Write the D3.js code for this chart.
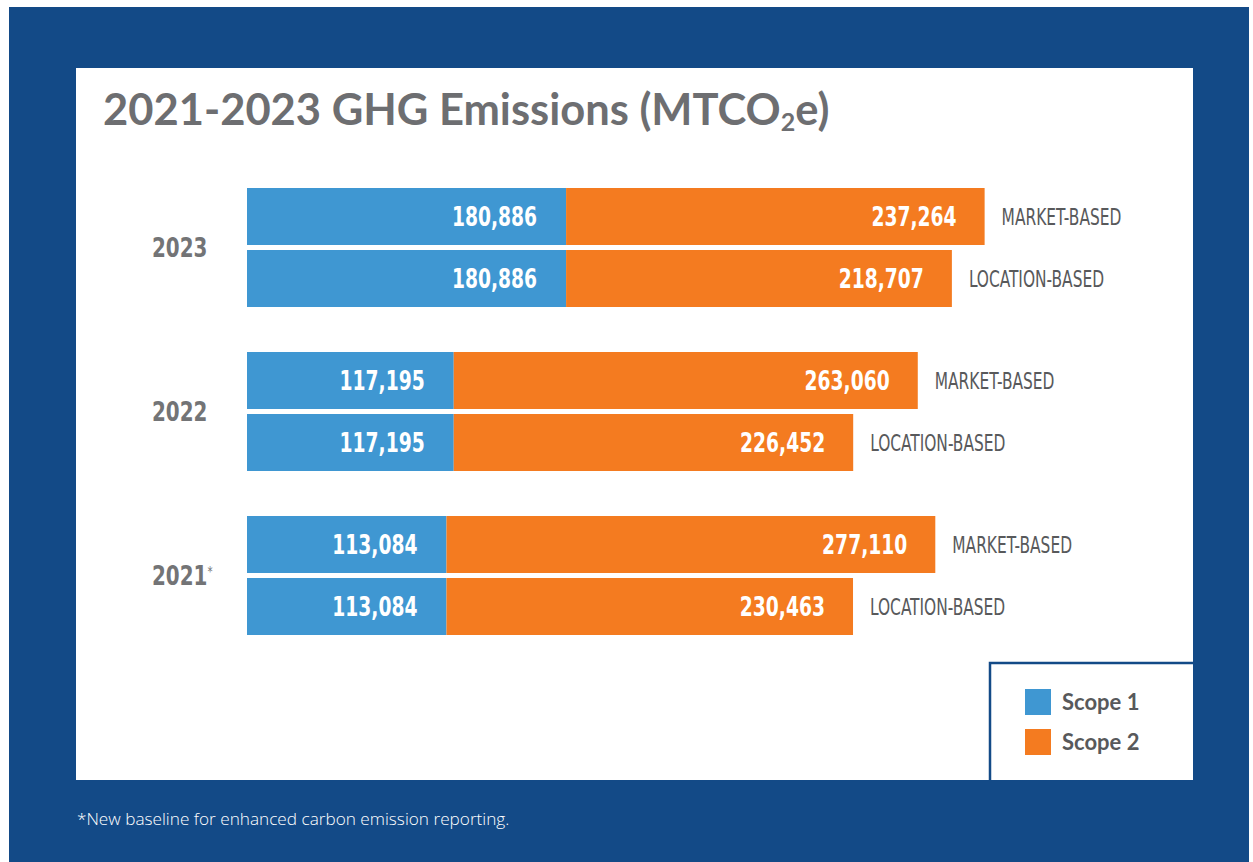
<!DOCTYPE html>
<html>
<head>
<meta charset="utf-8">
<script src="https://cdn.jsdelivr.net/npm/d3@7"></script>
<style>
  body { margin: 0; background: #fff; }
  svg { display: block; }
  .cond { font-family: "Liberation Sans Narrow", "DejaVu Sans Condensed", sans-serif; }
</style>
</head>
<body>
<svg id="chart" width="1253" height="862"></svg>
<script>
// Emissions in MTCO2e
var years = ["2023", "2022", "2021"],
    yearMarks = ["", "", "*"],
    methods = ["MARKET-BASED", "LOCATION-BASED"],
    scope1 = [180886, 117195, 113084],
    scope2Market = [237264, 263060, 277110],
    scope2Location = [218707, 226452, 230463],
    legendLabels = ["Scope 1", "Scope 2"];

var navy = "#134a87",
    blue = "#3f97d2",
    orange = "#f47b20",
    grey = "#58595b";

var svg = d3.select("#chart");

// squeeze a text node horizontally to imitate the very condensed face
function squeeze(factor) {
  return function() {
    var w = this.getComputedTextLength();
    d3.select(this)
        .attr("textLength", w * factor)
        .attr("lengthAdjust", "spacingAndGlyphs");
  };
}

// backdrop + white card
svg.append("rect")
    .attr("x", 9).attr("y", 7)
    .attr("width", 1240).attr("height", 855)
    .attr("fill", navy);

svg.append("rect")
    .attr("x", 76).attr("y", 68)
    .attr("width", 1117).attr("height", 712)
    .attr("fill", "#fff");

// title
var title = svg.append("text")
    .attr("x", 103)
    .attr("y", 125)
    .attr("fill", "#6d6e71")
    .style("font-family", "Lato, 'Open Sans', sans-serif")
    .style("font-weight", 700)
    .style("font-size", "43.5px");
title.append("tspan").text("2021-2023 GHG Emissions (MTCO");
title.append("tspan").text("2").style("font-size", "25px").attr("dy", 6);
title.append("tspan").text("e)").attr("dy", -6);

// scales
var x = d3.scaleLinear()
    .domain([0, 500000])
    .range([247, 1129]);

var y = d3.scaleBand()
    .domain(years)
    .range([188, 635])
    .paddingInner(45 / 164);

var yInner = d3.scaleBand()
    .domain(methods)
    .range([0, y.bandwidth()])
    .paddingInner(5 / 62);

var rows = [];
years.forEach(function(yr, i) {
  rows.push({year: yr, method: methods[0], s1: scope1[i], s2: scope2Market[i]});
  rows.push({year: yr, method: methods[1], s1: scope1[i], s2: scope2Location[i]});
});

var row = svg.selectAll("g.row")
    .data(rows)
  .enter().append("g")
    .attr("class", "row")
    .attr("transform", function(d) {
      return "translate(0," + (y(d.year) + yInner(d.method)) + ")";
    });

var h = yInner.bandwidth();

row.append("rect")
    .attr("x", x(0))
    .attr("height", h)
    .attr("width", function(d) { return x(d.s1) - x(0); })
    .attr("fill", blue);

row.append("rect")
    .attr("x", function(d) { return x(d.s1); })
    .attr("height", h)
    .attr("width", function(d) { return x(d.s1 + d.s2) - x(d.s1); })
    .attr("fill", orange);

var fmt = d3.format(",");

row.append("text")
    .attr("class", "cond")
    .attr("x", function(d) { return x(d.s1) - 29; })
    .attr("y", h / 2 + 9.5)
    .attr("text-anchor", "end")
    .attr("fill", "#fff")
    .style("font-weight", 700)
    .style("font-size", "27px")
    .text(function(d) { return fmt(d.s1); })
    .each(squeeze(0.77));

row.append("text")
    .attr("class", "cond")
    .attr("x", function(d) { return x(d.s1 + d.s2) - 28; })
    .attr("y", h / 2 + 9.5)
    .attr("text-anchor", "end")
    .attr("fill", "#fff")
    .style("font-weight", 700)
    .style("font-size", "27px")
    .text(function(d) { return fmt(d.s2); })
    .each(squeeze(0.77));

row.append("text")
    .attr("class", "cond")
    .attr("x", function(d) { return x(d.s1 + d.s2) + 17; })
    .attr("y", h / 2 + 8.5)
    .attr("fill", grey)
    .style("font-size", "23px")
    .text(function(d) { return d.method; })
    .each(squeeze(0.745));

// year labels; the footnote mark rides in the same text so it squeezes along
var yl = svg.selectAll("text.year")
    .data(years)
  .enter().append("text")
    .attr("class", "year cond")
    .attr("x", 152)
    .attr("y", function(d) { return y(d) + y.bandwidth() / 2 + 9.5; })
    .attr("fill", "#737476")
    .style("font-weight", 700)
    .style("font-size", "27px");

yl.append("tspan")
    .text(function(d) { return d; });
yl.append("tspan")
    .attr("dy", -9)
    .style("font-size", "14px")
    .style("font-weight", 400)
    .text(function(d, i) { return yearMarks[i]; });

yl.each(squeeze(0.82));

// legend box, open at bottom and right where it meets the frame
svg.append("path")
    .attr("d", "M990,780V663H1193")
    .attr("fill", "none")
    .attr("stroke", navy)
    .attr("stroke-width", 2.5);

var legend = svg.selectAll("g.legend")
    .data(legendLabels)
  .enter().append("g")
    .attr("class", "legend")
    .attr("transform", function(d, i) { return "translate(1025," + (689 + i * 40) + ")"; });

legend.append("rect")
    .attr("width", 26)
    .attr("height", 26)
    .attr("fill", function(d, i) { return i ? orange : blue; });

legend.append("text")
    .attr("x", 37)
    .attr("y", 21)
    .attr("fill", grey)
    .style("font-family", "Lato, sans-serif")
    .style("font-weight", 700)
    .style("font-size", "22px")
    .text(function(d) { return d; });

// footnote
svg.append("text")
    .attr("x", 77)
    .attr("y", 825)
    .attr("fill", "#fff")
    .style("font-family", "'Open Sans', sans-serif")
    .style("font-weight", 300)
    .style("font-size", "17.2px")
    .text("*New baseline for enhanced carbon emission reporting.");
</script>
</body>
</html>
